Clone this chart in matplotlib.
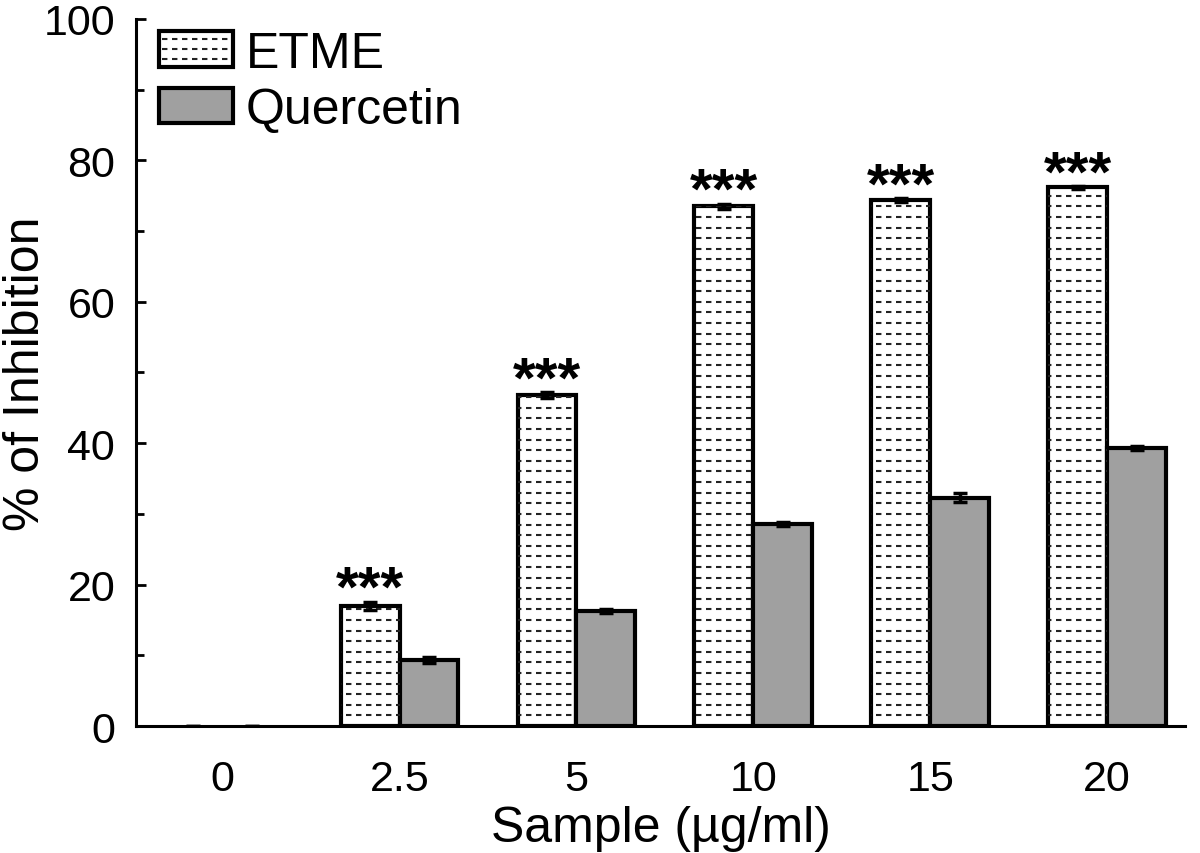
import numpy as np
import matplotlib
matplotlib.use("Agg")
import matplotlib.pyplot as plt
from matplotlib.patches import Rectangle
from matplotlib.lines import Line2D
from matplotlib.ticker import MultipleLocator

plt.rcParams['font.family'] = ['Liberation Sans', 'DejaVu Sans']

# data
doses = ["0", "2.5", "5", "10", "15", "20"]
etme = [0, 17.0, 46.8, 73.5, 74.4, 76.2]
etme_err = [0, 0.6, 0.4, 0.4, 0.3, 0.2]
quercetin = [0, 9.3, 16.3, 28.6, 32.3, 39.3]
quercetin_err = [0, 0.4, 0.3, 0.3, 0.6, 0.3]
signif = ["", "***", "***", "***", "***", "***"]

gray = "#a0a0a0"
w = 0.333
x = np.arange(len(doses))

fig = plt.figure(figsize=(12, 8.54), dpi=100)
ax = fig.add_axes([0.1133, 0.1487, 0.8742, 0.8279])

b1 = ax.bar(x - w / 2, etme, w, color="white", edgecolor="black", linewidth=3, zorder=2)
b2 = ax.bar(x + w / 2, quercetin, w, color=gray, edgecolor="black", linewidth=3, zorder=2)
for bar in list(b1) + list(b2):
    if bar.get_height() <= 0:
        bar.set_linewidth(0)

# dashed horizontal fill inside the ETME bars
ylines = np.arange(1.5, 100, 1.5)
for bar, v in zip(b1, etme):
    if v <= 0:
        continue
    lc = ax.hlines(ylines, -1, len(doses), colors="#222222", linewidth=1.5,
                   linestyles=(0, (2.6, 2.2)), zorder=2.5)
    lc.set_clip_path(bar)

ax.errorbar(x - w / 2, etme, yerr=etme_err, fmt="none", ecolor="black",
            elinewidth=2.5, capsize=5, capthick=2.5, zorder=3)
ax.errorbar(x + w / 2, quercetin, yerr=quercetin_err, fmt="none", ecolor="black",
            elinewidth=2.5, capsize=5, capthick=2.5, zorder=3)

for xi, v, e, s in zip(x, etme, etme_err, signif):
    if s:
        ax.text(xi - w / 2, v + e - 2.3, s, ha="center", va="bottom",
                fontsize=42, fontweight="bold")

ax.set_xlim(-0.49, 5.44)
ax.set_ylim(0, 100)
ax.set_xticks(x)
ax.set_xticklabels(doses)
ax.yaxis.set_major_locator(MultipleLocator(20))
ax.yaxis.set_minor_locator(MultipleLocator(10))
ax.tick_params(axis="y", which="major", direction="in", length=7, width=2,
               labelsize=31, pad=15)
ax.tick_params(axis="y", which="minor", direction="in", length=6, width=2)
ax.tick_params(axis="x", length=0, labelsize=31, pad=24)
for side in ["top", "right"]:
    ax.spines[side].set_visible(False)
for side in ["left", "bottom"]:
    ax.spines[side].set_linewidth(2.2)

ax.set_xlabel("Sample (µg/ml)", fontsize=36, labelpad=4)
ax.set_ylabel("% of Inhibition", fontsize=36)
ax.yaxis.set_label_coords(-0.083, 0.5)


class DashedBoxHandler:
    def legend_artist(self, legend, orig_handle, fontsize, handlebox):
        x0, y0 = handlebox.xdescent, handlebox.ydescent
        wd, ht = handlebox.width, handlebox.height
        r = Rectangle((x0, y0), wd, ht, facecolor="white", edgecolor="black",
                      linewidth=3, transform=handlebox.get_transform())
        handlebox.add_artist(r)
        for frac in (0.22, 0.5, 0.78):
            ln = Line2D([x0 + 2, x0 + wd - 2], [y0 + ht * frac] * 2, color="#222222",
                        linewidth=1.5, linestyle=(0, (2.6, 2.2)),
                        transform=handlebox.get_transform())
            handlebox.add_artist(ln)
        return r


etme_handle = Rectangle((0, 0), 1, 1)
q_handle = Rectangle((0, 0), 1, 1, facecolor=gray, edgecolor="black", linewidth=3)
ax.legend([etme_handle, q_handle], ["ETME", "Quercetin"], loc="upper left",
          bbox_to_anchor=(-0.004, 1.022), frameon=False, fontsize=36,
          handlelength=1.48, handleheight=0.72, handletextpad=0.25, labelspacing=0.2,
          borderaxespad=0.15, handler_map={etme_handle: DashedBoxHandler()})

fig.savefig("out.png", dpi=100)
